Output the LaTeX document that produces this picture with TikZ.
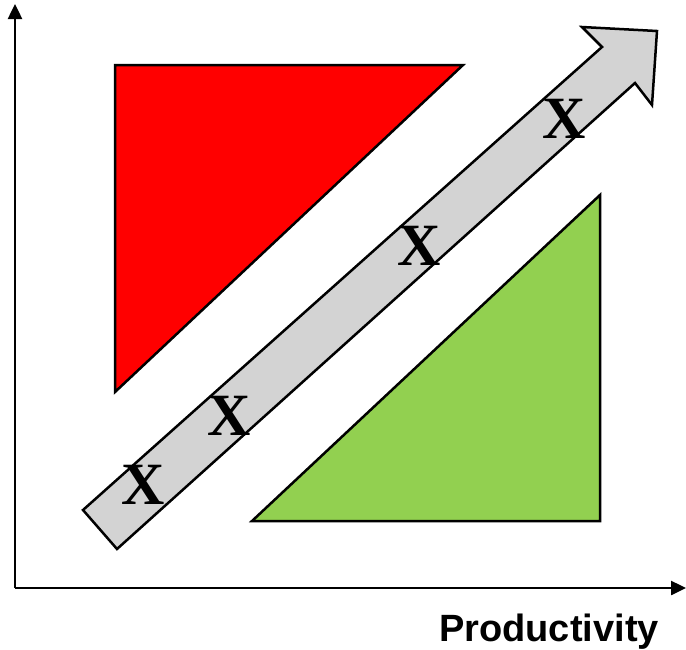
\documentclass[tikz,border=0pt]{standalone}
\usepackage{fontspec}
\setmainfont{Liberation Serif}
\setsansfont{Liberation Sans}
\usetikzlibrary{arrows.meta}
\definecolor{tgreen}{HTML}{92D050}
\definecolor{agray}{HTML}{D3D3D3}
\tikzset{
  axis/.style={line width=2.5pt,-{Triangle[length=15pt,width=14pt]}},
  tri/.style={draw=black,line width=2.5pt,line join=miter},
  xmark/.style={font=\fontsize{60}{60}\selectfont\bfseries,inner sep=0pt},
  axlabel/.style={font=\sffamily\bfseries\fontsize{38}{38}\selectfont,inner sep=0pt}
}
\begin{document}
\begin{tikzpicture}[x=1pt,y=-1pt]
\useasboundingbox (0,0) rectangle (686,649);
\coordinate (o) at (15,588);
\coordinate (ytip) at (15,4);
\coordinate (xtip) at (686,588);
\draw[axis] (o) -- (ytip);
\draw[axis] (o) -- (xtip);
\fill[red,tri] (115,65) -- (463,65) -- (115,392) -- cycle;
\fill[tgreen,tri] (600,195) -- (600,521) -- (252,521) -- cycle;
\filldraw[fill=agray,draw=black,line width=2.5pt,line join=miter]
  (83,510) -- (602,47) -- (582,27) -- (657,31) -- (652,105) -- (635,83) -- (117,549) -- cycle;
\node[xmark] (x1) at (143,485) {X};
\node[xmark] (x2) at (229,416) {X};
\node[xmark] (x3) at (419,246) {X};
\node[xmark] (x4) at (564,119) {X};
\node[axlabel] (prod) at (549,632) {Productivity};
\end{tikzpicture}
\end{document}
